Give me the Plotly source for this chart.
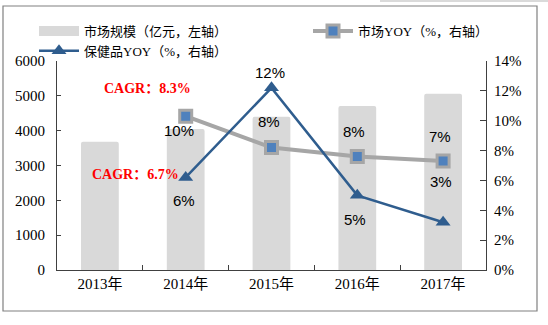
import plotly.graph_objects as go

# ---- data ----
years = ['2013年', '2014年', '2015年', '2016年', '2017年']
market_size = [3680, 4050, 4400, 4710, 5060]          # 亿元, left axis
yoy_years = ['2014年', '2015年', '2016年', '2017年']
market_yoy = [10.3, 8.2, 7.6, 7.3]                   # %, right axis
health_yoy = [6.2, 12.2, 5.0, 3.2]                   # %, right axis
market_yoy_labels = ['10%', '8%', '8%', '7%']
health_yoy_labels = ['6%', '12%', '5%', '3%']
cagr_texts = ['CAGR：8.3%', 'CAGR：6.7%']

# ---- styles ----
SERIF = 'Liberation Serif, Times New Roman, Noto Sans CJK SC, serif'
SANS = 'Liberation Sans, Arial, sans-serif'
BAR_C = '#D9D9D9'
GRAY_L = '#A6A6A6'
BLUE_M = '#4F81BD'
BLUE_D = '#2F5D8E'
AX_C = '#404040'

market_shift = [-14, 26, 25, 25]
health_shift = [-23, 15, -24, 41]

fig = go.Figure()

fig.add_trace(go.Bar(
    x=years, y=market_size, width=0.44,
    marker=dict(color=BAR_C, line=dict(width=0), cornerradius=2),
    showlegend=False, name='市场规模（亿元，左轴）', yaxis='y'))

# legend-only entry for bar (wide swatch like the original)
fig.add_trace(go.Scatter(
    x=[None], y=[None], mode='lines', name='市场规模（亿元，左轴）',
    line=dict(color=BAR_C, width=10), legend='legend'))

fig.add_trace(go.Scatter(
    x=yoy_years, y=market_yoy, yaxis='y2', mode='lines+markers',
    name='市场YOY（%，右轴）',
    line=dict(color=GRAY_L, width=4),
    marker=dict(symbol='square', size=12, color=BLUE_M,
                line=dict(color=GRAY_L, width=3)),
    legend='legend2'))

fig.add_trace(go.Scatter(
    x=yoy_years, y=health_yoy, yaxis='y2', mode='lines+markers',
    name='保健品YOY（%，右轴）',
    line=dict(color=BLUE_D, width=2.5),
    marker=dict(symbol='triangle-up', size=13, color=BLUE_D),
    legend='legend'))

annos = []
for xv, yv, t, s in zip(yoy_years, market_yoy, market_yoy_labels, market_shift):
    annos.append(dict(x=xv, y=yv, xref='x', yref='y2', text=t, showarrow=False,
                      yshift=s, xshift=-3 if s > 0 else -7,
                      font=dict(family=SANS, size=15, color='#000')))
for xv, yv, t, s in zip(yoy_years, health_yoy, health_yoy_labels, health_shift):
    annos.append(dict(x=xv, y=yv, xref='x', yref='y2', text=t, showarrow=False,
                      yshift=s, xshift=-2,
                      font=dict(family=SANS, size=15, color='#000')))

cagr_font = dict(family=SERIF, size=14, color='#FF0000', weight='bold')
annos.append(dict(x=0.55, y=5200, xref='x', yref='y', text=cagr_texts[0],
                  showarrow=False, font=cagr_font))
annos.append(dict(x=0.41, y=2730, xref='x', yref='y', text=cagr_texts[1],
                  showarrow=False, font=cagr_font))

W, H = 548, 325
L, R, T, B = 57, 62, 61, 55
pw, ph = W - L - R, H - T - B

def px(xp):
    return (xp - L) / pw

def py(yp):
    return (H - B - yp) / ph

shapes = [
    dict(type='rect', xref='paper', yref='paper', x0=px(3), x1=px(537),
         y0=py(311), y1=py(6), line=dict(color='#808080', width=1.2), layer='below'),
    dict(type='rect', xref='paper', yref='paper', x0=px(380), x1=px(548),
         y0=py(2), y1=py(0), line=dict(width=0), fillcolor='#DADADA'),
]

fig.update_layout(
    width=W, height=H,
    margin=dict(l=L, r=R, t=T, b=B),
    paper_bgcolor='white', plot_bgcolor='white',
    bargap=0.5,
    xaxis=dict(type='category', range=[-0.5, 4.5], showline=True, linecolor=AX_C,
               linewidth=1, ticks='inside', tickson='boundaries', ticklen=5,
               tickcolor=AX_C, showgrid=False,
               tickfont=dict(family=SERIF, size=15, color='#000')),
    yaxis=dict(range=[0, 6000], dtick=1000, showline=True, linecolor=AX_C, linewidth=1,
               ticks='inside', ticklen=4, tickcolor=AX_C, showgrid=False, zeroline=False,
               tickfont=dict(family=SERIF, size=15, color='#000'), ticklabelstandoff=8),
    yaxis2=dict(range=[0, 14], dtick=2, ticksuffix='%', overlaying='y', side='right',
                showline=True, linecolor=AX_C, linewidth=1, ticks='inside', ticklen=6,
                tickcolor=AX_C, showgrid=False, zeroline=False,
                tickfont=dict(family=SERIF, size=15, color='#000'), ticklabelstandoff=4),
    legend=dict(x=px(34), y=py(16), xanchor='left', yanchor='top', orientation='v',
                itemwidth=40, bgcolor='rgba(0,0,0,0)', tracegroupgap=0,
                font=dict(family=SERIF, size=13, color='#000')),
    legend2=dict(x=px(308), y=py(16), xanchor='left', yanchor='top', orientation='v',
                 itemwidth=40, bgcolor='rgba(0,0,0,0)',
                 font=dict(family=SERIF, size=13, color='#000')),
    annotations=annos,
    shapes=shapes,
)

fig.write_html('out.html')
